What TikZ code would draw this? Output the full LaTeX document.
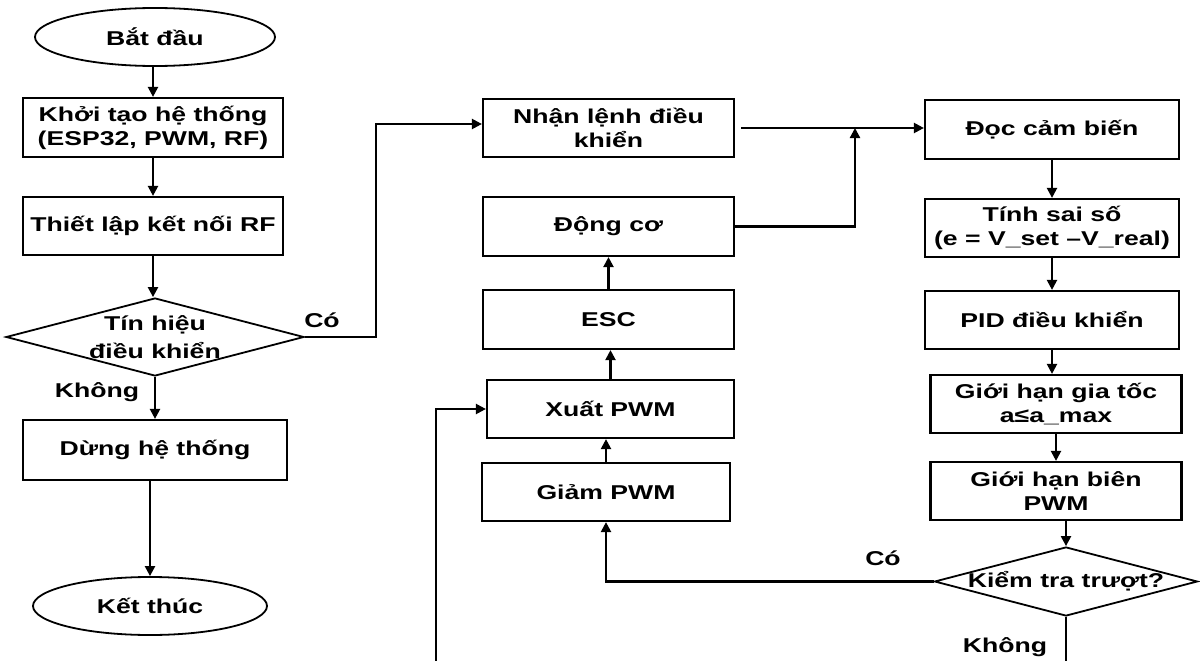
\documentclass[tikz,border=0pt]{standalone}
\usepackage{fontspec}
\setmainfont{Liberation Sans}
\usepackage{graphicx}
\usetikzlibrary{shapes.geometric,arrows.meta}
\newcommand{\sx}[1]{\scalebox{1.33}[1]{#1}}
\begin{document}
\begin{tikzpicture}[x=1pt,y=-1pt,
 every node/.style={font=\fontsize{20}{24}\selectfont\bfseries},
 box/.style={draw, line width=2.2pt, rectangle, inner sep=0pt, align=center},
 term/.style={draw, line width=1.8pt, ellipse, inner sep=0pt},
 dia/.style={draw, line width=1.8pt, diamond, inner sep=0pt, aspect=3.8},
 arr/.style={line width=2.2pt, -{Triangle[length=10pt,width=10pt]}},
 ln/.style={line width=2.2pt},
 lbl/.style={inner sep=0pt}]
\useasboundingbox (0,0) rectangle (1200,661);
% left column
\node[term, minimum width=240, minimum height=58] (start) at (155,37) {\sx{Bắt đầu}};
\node[box, minimum width=260, minimum height=59] (init) at (153,127.5) {\sx{Khởi tạo hệ thống}\\\sx{(ESP32, PWM, RF)}};
\node[box, minimum width=260, minimum height=58] (rf) at (153,226) {\sx{Thiết lập kết nối RF}};
\node[dia, minimum width=298, minimum height=78] (sig) at (155,337) {};
\node[lbl, align=center, font=\fontsize{20}{28}\selectfont\bfseries] (sigt) at (sig) {\sx{Tín hiệu}\\\sx{điều khiển}};
\node[box, minimum width=264, minimum height=60] (stop) at (155,450) {\sx{Dừng hệ thống}};
\node[term, minimum width=234, minimum height=58] (end) at (150,606) {\sx{Kết thúc}};
% middle column
\node[box, minimum width=251, minimum height=58] (recv) at (608.5,128) {\sx{Nhận lệnh điều}\\\sx{khiển}};
\node[box, minimum width=251, minimum height=59] (motor) at (608.5,226.5) {\sx{Động cơ}};
\node[box, minimum width=251, minimum height=59] (esc) at (608.5,319.5) {\sx{ESC}};
\node[box, minimum width=247, minimum height=58] (pwm) at (610.5,409) {\sx{Xuất PWM}};
\node[box, minimum width=248, minimum height=58] (dec) at (606,492) {\sx{Giảm PWM}};
% right column
\node[box, minimum width=254, minimum height=59] (sens) at (1052,129.5) {\sx{Đọc cảm biến}};
\node[box, minimum width=254, minimum height=58] (err) at (1052,228) {\sx{Tính sai số}\\\sx{(e = V\_set –V\_real)}};
\node[box, minimum width=254, minimum height=58] (pid) at (1052,320) {\sx{PID điều khiển}};
\node[box, minimum width=251, minimum height=58] (acc) at (1056,404) {\sx{Giới hạn gia tốc}\\\sx{a≤a\_max}};
\node[box, minimum width=251, minimum height=58] (lim) at (1056,491) {\sx{Giới hạn biên}\\\sx{PWM}};
\node[dia, minimum width=263, minimum height=69] (slip) at (1066,581.5) {};
\node[lbl] (slipt) at (slip) {\sx{Kiểm tra trượt?}};
% labels
\node[lbl] (co1) at (322,320) {\sx{Có}};
\node[lbl] (kh1) at (97,392) {\sx{Không}};
\node[lbl] (co2) at (883,558) {\sx{Có}};
\node[lbl] (kh2) at (1005,647) {\sx{Không}};
% free ends
\coordinate (c1) at (376,124);
\coordinate (j) at (855,128);
\coordinate (lb) at (436,661);
\coordinate (sb) at (1066,661);
% connectors
\draw[arr] (start.south -| init.north) -- (init.north);
\draw[arr] (init.south) -- (rf.north);
\draw[arr] (rf.south) -- (rf.south |- sig.north);
\draw[arr] (sig.south) -- (sig.south |- stop.north);
\draw[arr] (stop.south -| end.north) -- (end.north);
\draw[arr] (sig.east) -| (c1) -- (c1 -| recv.west);
\draw[arr, shorten <=6pt] (recv.east) -- (recv.east -| sens.west);
\draw[arr] (motor.east) -| (j);
\draw[arr] (esc.north) -- (motor.south);
\draw[arr] (pwm.north) -- (pwm.north |- esc.south);
\draw[arr] (dec.north) -- (dec.north |- pwm.south);
\draw[arr] (slip.west) -| (dec.south);
\draw[ln] (slip.south) -- (sb);
\draw[arr] (lb) |- (pwm.west);
\draw[arr] (sens.south) -- (err.north);
\draw[arr] (err.south) -- (pid.north);
\draw[arr] (pid.south) -- (pid.south |- acc.north);
\draw[arr] (acc.south) -- (acc.south |- lim.north);
\draw[arr] (slip.north |- lim.south) -- (slip.north);
\end{tikzpicture}
\end{document}
